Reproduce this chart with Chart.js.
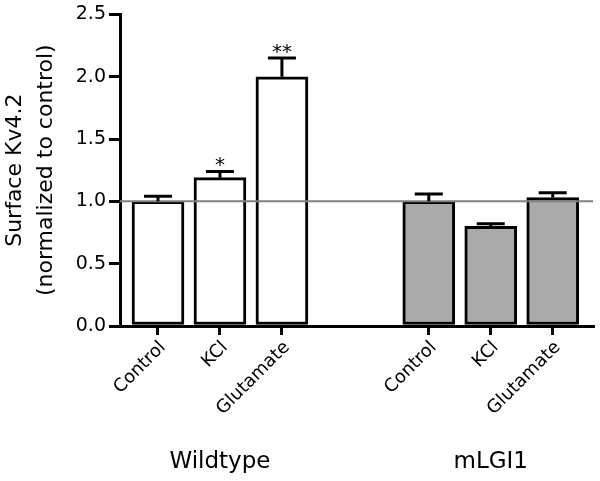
<!DOCTYPE html>
<html>
<head>
<meta charset="utf-8">
<script src="https://cdn.jsdelivr.net/npm/chart.js@4.4.1/dist/chart.umd.min.js"></script>
<style>
html,body{margin:0;padding:0;background:#fff;}
#wrap{width:600px;height:481px;}
</style>
</head>
<body>
<div id="wrap"><canvas id="c" width="600" height="481"></canvas></div>
<script>
const categories = ['Control', 'KCl', 'Glutamate', 'Control', 'KCl', 'Glutamate'];
const groups = ['Wildtype', 'mLGI1'];
const xPositions = [0, 1, 2, 4.37, 5.37, 6.37];
const values = [1.00, 1.19, 2.00, 1.00, 0.80, 1.03];
const errors = [0.04, 0.05, 0.15, 0.06, 0.02, 0.04];
const significance = ['', '*', '**', '', '', ''];
const yTicks = [0, 0.5, 1.0, 1.5, 2.0, 2.5];
const referenceValue = 1.0;

const barColors = ['#ffffff', '#ffffff', '#ffffff', '#aaaaaa', '#aaaaaa', '#aaaaaa'];
const FONT = '"DejaVu Sans", Arial, sans-serif';

const overlay = {
  id: 'overlay',
  afterDatasetsDraw(chart) {
    const ctx = chart.ctx;
    const xs = chart.scales.x, ys = chart.scales.y;
    const area = chart.chartArea;
    ctx.save();
    // reference line
    ctx.strokeStyle = '#7f7f7f';
    ctx.lineWidth = 2;
    const yr = ys.getPixelForValue(referenceValue);
    ctx.beginPath();
    ctx.moveTo(area.left, yr);
    ctx.lineTo(area.right, yr);
    ctx.stroke();
    // error bars
    ctx.strokeStyle = '#000';
    ctx.lineWidth = 3;
    const capHalf = 14;
    values.forEach((v, i) => {
      const x = xs.getPixelForValue(xPositions[i]);
      const y0 = ys.getPixelForValue(v);
      const y1 = ys.getPixelForValue(v + errors[i]);
      ctx.beginPath();
      ctx.moveTo(x, y0);
      ctx.lineTo(x, y1);
      ctx.moveTo(x - capHalf, y1);
      ctx.lineTo(x + capHalf, y1);
      ctx.stroke();
      if (significance[i]) {
        ctx.fillStyle = '#000';
        ctx.font = '20px ' + FONT;
        ctx.textAlign = 'center';
        ctx.textBaseline = 'alphabetic';
        ctx.fillText(significance[i], x, y1);
      }
    });
    // group labels
    ctx.fillStyle = '#000';
    ctx.font = '23px ' + FONT;
    ctx.textAlign = 'center';
    ctx.textBaseline = 'middle';
    const g1 = (xs.getPixelForValue(xPositions[0]) + xs.getPixelForValue(xPositions[2])) / 2;
    const g2 = (xs.getPixelForValue(xPositions[3]) + xs.getPixelForValue(xPositions[5])) / 2;
    ctx.fillText(groups[0], g1, 462);
    ctx.fillText(groups[1], g2, 462);
    ctx.restore();
  }
};

new Chart(document.getElementById('c'), {
  type: 'bar',
  data: {
    datasets: [{
      data: xPositions.map((x, i) => ({ x: x, y: values[i] })),
      backgroundColor: barColors,
      borderColor: '#000',
      borderWidth: 3,
      borderSkipped: false,
      barThickness: 52
    }]
  },
  options: {
    responsive: false,
    animation: false,
    devicePixelRatio: 1,
    layout: { padding: { left: 0, right: 7, top: 13, bottom: 0 } },
    plugins: { legend: { display: false }, tooltip: { enabled: false } },
    scales: {
      x: {
        type: 'linear',
        min: -0.613,
        max: 7.02,
        offset: false,
        afterBuildTicks: (s) => { s.ticks = xPositions.map(v => ({ value: v })); },
        afterFit: (s) => { s.height = 155; },
        ticks: {
          autoSkip: false,
          minRotation: 45,
          maxRotation: 45,
          color: '#000',
          font: { size: 18, family: FONT },
          padding: 2,
          labelOffset: 5,
          callback: (v) => { const i = xPositions.indexOf(v); return i >= 0 ? categories[i] : ''; }
        },
        grid: { display: true, offset: false, drawOnChartArea: false, drawTicks: true, tickLength: 9, tickWidth: 3, tickColor: '#000', lineWidth: 3, color: '#000' },
        border: { display: true, color: '#000', width: 3 }
      },
      y: {
        min: 0,
        max: 2.5,
        afterBuildTicks: (s) => { s.ticks = yTicks.map(v => ({ value: v })); },
        afterFit: (s) => { s.width = 120; },
        ticks: {
          color: '#000',
          font: { size: 19, family: FONT },
          padding: 3,
          callback: (v) => v.toFixed(1)
        },
        title: {
          display: true,
          text: ['Surface Kv4.2', '(normalized to control)'],
          color: '#000',
          font: { size: 22, family: FONT, lineHeight: 1.4 },
          padding: { top: 0, bottom: 4 }
        },
        grid: { display: true, drawOnChartArea: false, drawTicks: true, tickLength: 11, tickWidth: 3, tickColor: '#000', lineWidth: 3, color: '#000' },
        border: { display: true, color: '#000', width: 3 }
      }
    }
  },
  plugins: [overlay]
});
</script>
</body>
</html>
